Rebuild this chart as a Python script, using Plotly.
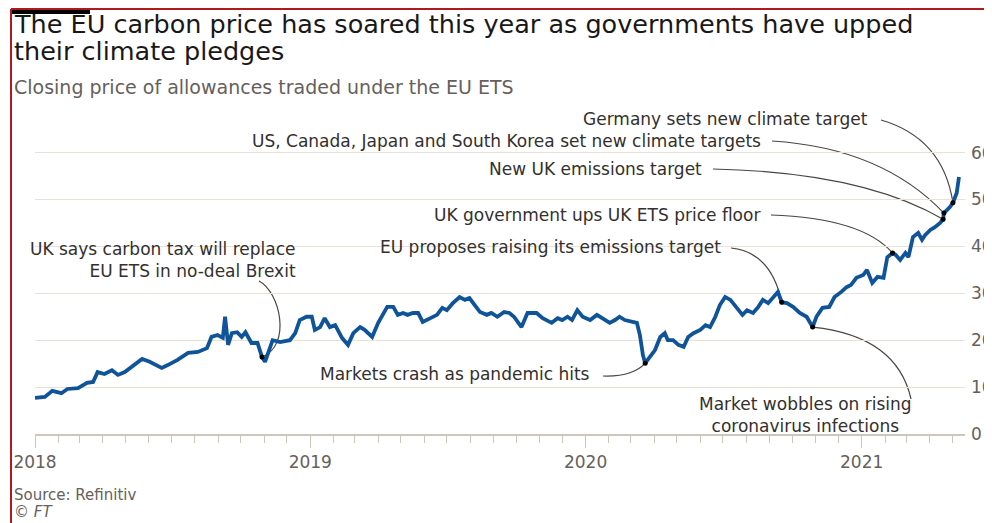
import pandas as pd
import plotly.graph_objects as go

# ---------------- data ----------------
dates = [
    "2018-01-01", "2018-01-14", "2018-01-24", "2018-02-05", "2018-02-13", "2018-02-27",
    "2018-03-11", "2018-03-19", "2018-03-25", "2018-04-03", "2018-04-13", "2018-04-21",
    "2018-04-30", "2018-05-13", "2018-05-23", "2018-06-02", "2018-06-11", "2018-06-18",
    "2018-06-26", "2018-07-09", "2018-07-23", "2018-08-05", "2018-08-17", "2018-08-23",
    "2018-08-31", "2018-09-07", "2018-09-10", "2018-09-14", "2018-09-19", "2018-09-26",
    "2018-10-02", "2018-10-07", "2018-10-15", "2018-10-23", "2018-10-29", "2018-11-02",
    "2018-11-12", "2018-11-22", "2018-12-05", "2018-12-12", "2018-12-18", "2018-12-27",
    "2019-01-03", "2019-01-07", "2019-01-14", "2019-01-20", "2019-01-27", "2019-02-03",
    "2019-02-12", "2019-02-20", "2019-02-27", "2019-03-08", "2019-03-14", "2019-03-24",
    "2019-04-01", "2019-04-06", "2019-04-13", "2019-04-21", "2019-04-27", "2019-05-04",
    "2019-05-10", "2019-05-17", "2019-05-24", "2019-05-30", "2019-06-09", "2019-06-18",
    "2019-06-25", "2019-07-01", "2019-07-09", "2019-07-18", "2019-07-25", "2019-07-31",
    "2019-08-07", "2019-08-14", "2019-08-23", "2019-08-29", "2019-09-06", "2019-09-15",
    "2019-09-22", "2019-09-28", "2019-10-08", "2019-10-16", "2019-10-28", "2019-11-05",
    "2019-11-17", "2019-11-25", "2019-12-01", "2019-12-08", "2019-12-14", "2019-12-21",
    "2019-12-28", "2020-01-07", "2020-01-16", "2020-01-24", "2020-02-02", "2020-02-09",
    "2020-02-15", "2020-02-22", "2020-03-03", "2020-03-09", "2020-03-13", "2020-03-17",
    "2020-03-20", "2020-03-26", "2020-04-02", "2020-04-09", "2020-04-15", "2020-04-19",
    "2020-04-26", "2020-05-03", "2020-05-10", "2020-05-16", "2020-05-23", "2020-06-01",
    "2020-06-08", "2020-06-14", "2020-06-21", "2020-06-27", "2020-07-04", "2020-07-11",
    "2020-07-17", "2020-07-27", "2020-08-02", "2020-08-10", "2020-08-17", "2020-08-23",
    "2020-08-30", "2020-09-05", "2020-09-12", "2020-09-17", "2020-09-24", "2020-10-02",
    "2020-10-11", "2020-10-20", "2020-10-28", "2020-11-02", "2020-11-10", "2020-11-19",
    "2020-11-26", "2020-12-05", "2020-12-12", "2020-12-18", "2020-12-25", "2021-01-03",
    "2021-01-08", "2021-01-15", "2021-01-22", "2021-01-30", "2021-02-04", "2021-02-11",
    "2021-02-15", "2021-02-21", "2021-02-28", "2021-03-04", "2021-03-10", "2021-03-17",
    "2021-03-22", "2021-03-26", "2021-04-02", "2021-04-08", "2021-04-15", "2021-04-19",
    "2021-04-20", "2021-04-28", "2021-05-02", "2021-05-07", "2021-05-10",
]
prices = [
    7.7, 7.9, 9.2, 8.7, 9.6, 9.8,
    10.9, 11.1, 13.2, 12.8, 13.6, 12.6,
    13.2, 14.7, 16.0, 15.4, 14.7, 14.1,
    14.7, 15.8, 17.3, 17.5, 18.3, 20.7,
    21.1, 20.5, 25.0, 19.0, 21.5, 21.7,
    20.7, 21.7, 19.4, 19.4, 16.4, 15.4,
    20.0, 19.6, 20.0, 21.5, 24.3, 25.0,
    25.0, 22.2, 22.8, 24.7, 22.8, 23.2,
    20.5, 19.0, 21.5, 22.8, 22.2, 20.7,
    23.7, 25.0, 27.1, 27.1, 25.4, 25.8,
    25.4, 25.8, 25.8, 23.9, 24.7, 25.4,
    26.9, 26.4, 27.9, 29.2, 28.6, 29.0,
    27.5, 26.0, 25.4, 25.8, 25.0, 26.0,
    25.8, 25.0, 22.8, 25.8, 25.8, 24.7,
    23.7, 24.7, 24.3, 25.0, 24.3, 26.4,
    25.0, 24.3, 25.4, 24.7, 23.7, 24.3,
    25.0, 24.3, 23.9, 23.7, 21.1, 16.8,
    15.1, 16.4, 17.9, 20.7, 21.5, 20.0,
    20.0, 19.0, 18.6, 20.7, 21.5, 22.2,
    23.2, 22.8, 25.0, 27.5, 29.2, 28.6,
    27.5, 25.4, 26.4, 25.8, 27.1, 28.6,
    27.9, 29.0, 30.3, 28.1, 27.9, 27.1,
    25.8, 25.0, 22.8, 25.0, 26.9, 27.1,
    29.2, 30.3, 31.3, 31.8, 33.3, 33.9,
    35.0, 32.2, 33.5, 33.3, 37.7, 38.6,
    38.2, 37.1, 38.6, 37.7, 42.0, 42.9,
    41.4, 42.4, 43.5, 44.1, 45.0, 45.8,
    47.1, 48.4, 49.3, 51.4, 54.8,
]

year_ticks = ["2018-01-01", "2019-01-01", "2020-01-01", "2021-01-01"]
year_labels = ["2018", "2019", "2020", "2021"]
price_ticks = [0, 10, 20, 30, 40, 50, 60]
price_labels = ["0", "10", "20", "30", "40", "50", "60"]

event_dates = ["2018-10-29", "2020-03-20", "2020-09-17", "2020-10-28",
               "2021-02-11", "2021-04-19", "2021-04-20", "2021-05-02"]
event_labels = [
    "UK says carbon tax will replace<br>EU ETS in no-deal Brexit",
    "Markets crash as pandemic hits",
    "EU proposes raising its emissions target",
    "Market wobbles on rising<br>coronavirus infections",
    "UK government ups UK ETS price floor",
    "New UK emissions target",
    "US, Canada, Japan and South Korea set new climate targets",
    "Germany sets new climate target",
]

title_lines = ["The EU carbon price has soared this year as governments have upped",
               "their climate pledges"]
subtitle = "Closing price of allowances traded under the EU ETS"
source = "Source: Refinitiv"

# ---------------- layout geometry (page pixels) ----------------
PAGE_W, PAGE_H = 992, 523
OFF = 8                      # default page margin around the figure
W, H = PAGE_W - OFF, PAGE_H - OFF
L, R, T, B = 35, 965, 100, 434   # plot area on the page
X0, X1 = pd.Timestamp("2018-01-01"), pd.Timestamp("2021-05-18")
PX_PER_UNIT = 4.69
YMAX = (B - T) / PX_PER_UNIT

FONT = "DejaVu Sans"
BLUE = "#0f5499"
TXT = "#33302e"
GREY = "#66605c"
GRID = "#e9e0d6"
AX = "#cfc5bb"
CURVE = "#4a4542"


def dx(px):
    return (X0 + (px - L) / (R - L) * (X1 - X0)).strftime("%Y-%m-%d_%H:%M:%S")


def dy(py):
    return (B - py) / (B - T) * YMAX


def ppx(px):
    return (px - L) / (R - L)


def ppy(py):
    return (B - py) / (B - T)


price_of = dict(zip(dates, prices))
ev_vals = [price_of[d] for d in event_dates]

fig = go.Figure()
fig.add_trace(go.Scatter(x=dates, y=prices, mode="lines",
                         line=dict(color=BLUE, width=3.8, shape="linear"),
                         hoverinfo="skip"))
fig.add_trace(go.Scatter(x=event_dates, y=ev_vals, mode="markers",
                         marker=dict(color="black", size=5),
                         hoverinfo="skip"))

label_geo = [
    dict(x=298, y=260, xa="right", align="right", start=(259, 281), c=[(280, 292), (292, 345)]),
    dict(x=592, y=374, xa="right", align="right", start=(603, 376), c=[(633, 377)]),
    dict(x=723, y=247, xa="right", align="right", start=(731, 248), c=[(771, 252)]),
    dict(x=805, y=415, xa="center", align="center", start=(911, 399), c=[(897, 336)]),
    dict(x=762, y=215, xa="right", align="right", start=(771, 215), c=[(862, 218)]),
    dict(x=704, y=169, xa="right", align="right", start=(713, 169), c=[(862, 172)]),
    dict(x=763, y=141, xa="right", align="right", start=(772, 141), c=[(882, 148)]),
    dict(x=870, y=119, xa="right", align="right", start=(881, 120), c=[(943, 138)]),
]

shapes = []
annotations = []
for lab, g, d, v in zip(event_labels, label_geo, event_dates, ev_vals):
    sx, sy = g["start"]
    end = f"{d}_00:00:00,{v}"
    if len(g["c"]) == 2:
        (c1x, c1y), (c2x, c2y) = g["c"]
        path = f"M{dx(sx)},{dy(sy)} C{dx(c1x)},{dy(c1y)} {dx(c2x)},{dy(c2y)} {end}"
    else:
        (cx, cy), = g["c"]
        path = f"M{dx(sx)},{dy(sy)} Q{dx(cx)},{dy(cy)} {end}"
    shapes.append(dict(type="path", xref="x", yref="y", path=path,
                       line=dict(color=CURVE, width=1.2), layer="below"))
    annotations.append(dict(xref="paper", yref="paper", x=ppx(g["x"]), y=ppy(g["y"]),
                            xanchor=g["xa"], yanchor="middle", align=g["align"],
                            text=lab, showarrow=False,
                            font=dict(family=FONT, size=17, color=TXT)))

annotations += [
    dict(xref="paper", yref="paper", x=ppx(12), y=ppy(24), xanchor="left", yanchor="middle",
         text=title_lines[0], showarrow=False, font=dict(family=FONT, size=25.5, color="#1a1817")),
    dict(xref="paper", yref="paper", x=ppx(12), y=ppy(51), xanchor="left", yanchor="middle",
         text=title_lines[1], showarrow=False, font=dict(family=FONT, size=25.5, color="#1a1817")),
    dict(xref="paper", yref="paper", x=ppx(12), y=ppy(87), xanchor="left", yanchor="middle",
         text=subtitle, showarrow=False, font=dict(family=FONT, size=19, color=GREY)),
    dict(xref="paper", yref="paper", x=ppx(12), y=ppy(495), xanchor="left", yanchor="middle",
         text=source, showarrow=False, font=dict(family=FONT, size=15, color=GREY)),
    dict(xref="paper", yref="paper", x=ppx(12), y=ppy(512), xanchor="left", yanchor="middle",
         text="© <i>FT</i>", showarrow=False, font=dict(family=FONT, size=15, color=GREY)),
]

TOP = OFF + 1   # topmost drawable page row
shapes += [
    dict(type="line", xref="paper", yref="paper", x0=ppx(11), x1=ppx(11), y0=ppy(PAGE_H), y1=ppy(TOP),
         line=dict(color="#b0191e", width=2), layer="above"),
    dict(type="line", xref="paper", yref="paper", x0=ppx(11), x1=ppx(PAGE_W), y0=ppy(TOP), y1=ppy(TOP),
         line=dict(color="#b0191e", width=2), layer="above"),
    dict(type="rect", xref="paper", yref="paper", x0=ppx(12), x1=ppx(90), y0=ppy(TOP + 5), y1=ppy(TOP + 1),
         fillcolor="black", line=dict(width=0), layer="above"),
]

fig.update_layout(
    width=W, height=H,
    margin=dict(l=L - OFF, r=W - (R - OFF), t=T - OFF, b=H - (B - OFF), pad=0, autoexpand=False),
    paper_bgcolor="white", plot_bgcolor="white",
    showlegend=False,
    shapes=shapes, annotations=annotations,
    xaxis=dict(type="date", range=[X0.strftime("%Y-%m-%d"), X1.strftime("%Y-%m-%d")],
               automargin=False,
               tickmode="array", tickvals=year_ticks, ticktext=year_labels,
               ticks="outside", ticklen=12, tickwidth=1, tickcolor=AX,
               showline=True, linecolor=AX, linewidth=1.5,
               showgrid=False, zeroline=False,
               tickfont=dict(family=FONT, size=17, color=GREY),
               minor=dict(tickmode="linear", tick0="2018-01-01", dtick="M1",
                          ticks="outside", ticklen=7, tickwidth=1, tickcolor=AX,
                          showgrid=False)),
    yaxis=dict(range=[0, YMAX], side="right", tickmode="array", automargin=False,
               tickvals=price_ticks, ticktext=price_labels, ticklabelstandoff=5,
               showgrid=True, gridcolor=GRID, gridwidth=1,
               zeroline=False, showline=False, ticks="",
               tickfont=dict(family=FONT, size=17, color=GREY)),
)

fig.write_html("out.html")
